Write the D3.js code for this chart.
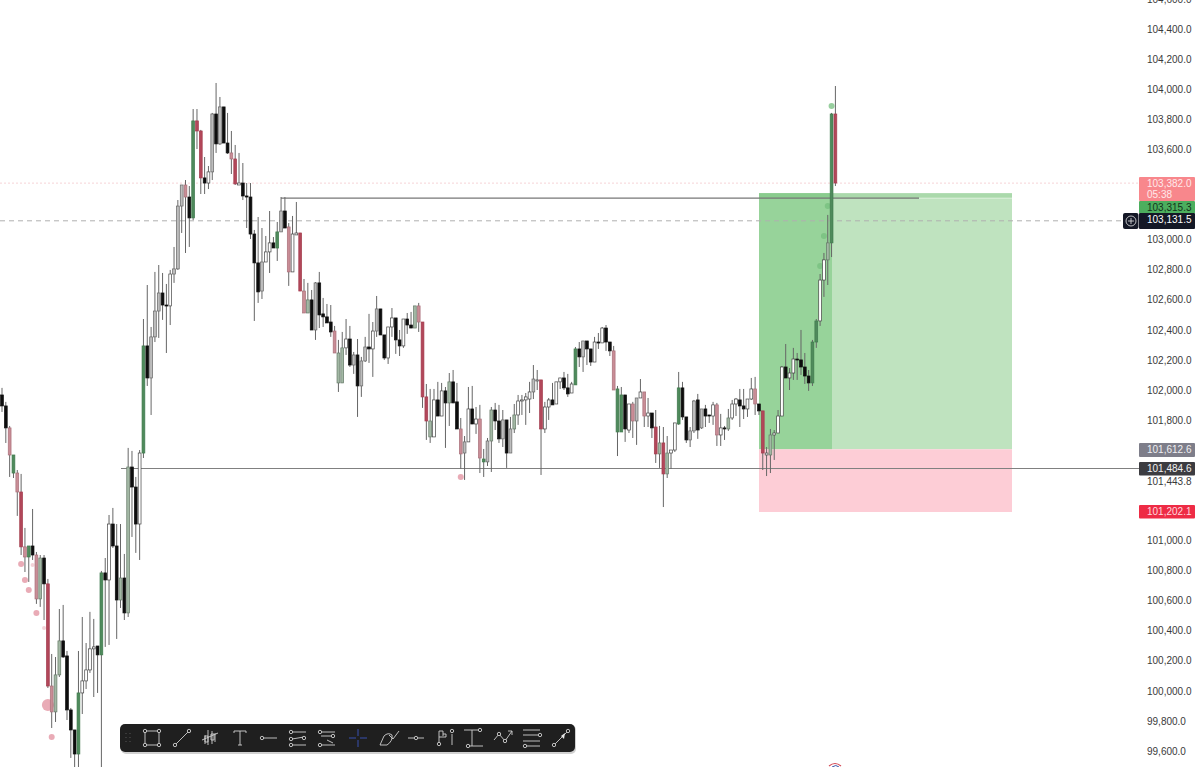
<!DOCTYPE html>
<html>
<head>
<meta charset="utf-8">
<script src="https://cdn.jsdelivr.net/npm/d3@7"></script>
<style>
  html, body { margin: 0; padding: 0; background: #fff; overflow: hidden; }
  text { font-family: "Liberation Sans", Arial, sans-serif; }
</style>
</head>
<body>
<div id="chart"></div>
<script>
//--------------------------------------------------/
//                    DATA
//--------------------------------------------------/
var highs = [102014,101921,101761,101568,101468,101442,101083,100963,101209,100923,
  100903,100903,100744,100245,100225,100544,100571,100265,99886,99740,
  100265,100491,100318,100525,100478,100298,100797,100883,101169,101216,
  101109,101109,100910,101615,101595,101422,101601,102472,102698,102419,
  102785,102831,102778,102705,102798,102951,103263,103363,103396,103356,
  103868,103868,103729,103549,103489,103842,104041,103948,103882,103842,
  103722,103629,103576,103509,103376,103376,103064,103150,103077,103024,
  103190,103017,103117,103283,103283,103110,103157,103250,103044,102738,
  102712,102665,102718,102785,102612,102572,102565,102426,102333,102386,
  102472,102426,102253,102339,102220,102353,102506,102452,102625,102539,
  102366,102419,102545,102479,102399,102472,102512,102519,102559,102579,
  102452,102040,102007,102007,102054,102047,102020,102113,102133,102047,
  101814,101694,102020,102027,101887,101901,101608,101681,101887,101914,
  101901,101867,101801,101821,101907,101967,101967,101980,102054,102166,
  102133,102067,101921,101947,102047,102054,102080,102120,102107,102054,
  102286,102319,102326,102326,102273,102353,102379,102419,102432,102319,
  102293,102027,102020,101967,101907,101921,101947,102073,101987,101947,
  101847,101867,101761,101754,101694,101601,101781,102120,102054,101821,
  101754,101934,101974,101874,101901,101834,101921,101914,101841,101761,
  101874,101934,101947,102007,102007,101940,102080,102087,101907,101861,
  101621,101741,101734,101867,102160,102306,102146,102280,102246,102399,
  102246,102133,102333,102472,102771,102911,103164,103842,104021];

var bodyTops = [101967,101894,101748,101568,101448,101322,100957,100963,100963,100903,
  100883,100883,100711,100032,100106,100332,100332,100232,99873,99740,
  99986,100066,100139,100279,100292,100298,100784,100784,101109,101109,
  100963,100750,100750,101488,101488,101355,101581,102293,102293,102353,
  102525,102645,102645,102565,102771,102805,103223,103363,103363,103283,
  103789,103789,103722,103410,103450,103835,103835,103882,103882,103642,
  103576,103536,103376,103376,103290,103283,103037,102845,102851,102918,
  102978,102978,103051,103190,103190,103084,103037,103044,103044,102658,
  102599,102599,102712,102712,102506,102486,102452,102392,102246,102280,
  102339,102339,102233,102233,102193,102286,102286,102392,102539,102539,
  102366,102419,102479,102479,102333,102472,102472,102432,102559,102559,
  102452,101954,101794,101934,101934,101994,101994,102054,102054,101921,
  101741,101655,101874,101874,101807,101807,101541,101661,101867,101867,
  101794,101801,101801,101741,101834,101927,101934,101954,101987,102073,
  102067,102067,101887,101934,101934,102054,102080,102080,102014,102040,
  102273,102273,102326,102326,102273,102319,102319,102412,102412,102319,
  102260,102007,101967,101967,101907,101907,101947,101987,101987,101847,
  101847,101754,101648,101648,101581,101601,101781,102014,102014,101821,
  101728,101927,101934,101874,101874,101834,101901,101901,101748,101748,
  101814,101907,101940,101934,101894,101940,102007,102007,101907,101861,
  101581,101701,101714,101827,102153,102153,102113,102206,102206,102200,
  102153,102093,102319,102459,102731,102865,102978,103835,103835];

var bodyBottoms = [101894,101748,101568,101448,101322,100957,100890,100890,100903,100611,
  100611,100711,100032,99860,99860,100106,100225,99873,99740,99580,
  99580,99986,100066,100139,100279,100239,100239,100737,100737,100963,
  100604,100604,100518,100518,101355,101109,101109,101581,102080,102080,
  102353,102525,102565,102559,102559,102771,102805,103223,103283,103144,
  103144,103722,103410,103376,103376,103450,103636,103636,103642,103576,
  103536,103370,103363,103290,103283,103037,102845,102652,102658,102851,
  102918,102944,102944,103051,103077,102785,102785,103031,102658,102512,
  102512,102399,102399,102499,102486,102446,102386,102246,102047,102047,
  102280,102166,102166,102027,102027,102193,102273,102273,102392,102366,
  102213,102213,102419,102333,102293,102293,102432,102412,102412,102452,
  101954,101794,101688,101688,101827,101827,101914,101914,101914,101741,
  101575,101581,101655,101774,101774,101548,101522,101522,101661,101794,
  101675,101675,101581,101581,101741,101834,101927,101934,101940,101987,
  102060,101741,101741,101887,101901,101907,102054,102014,101974,101980,
  102034,102220,102220,102273,102186,102186,102313,102313,102319,102260,
  102000,101721,101721,101741,101734,101794,101794,101947,101827,101827,
  101748,101575,101575,101442,101442,101581,101601,101774,101821,101668,
  101668,101728,101734,101748,101827,101827,101827,101701,101701,101741,
  101741,101814,101907,101894,101874,101874,101940,101907,101861,101581,
  101568,101568,101701,101714,101827,102080,102080,102113,102200,102153,
  102093,102047,102047,102319,102459,102731,102865,102978,103376];

var lows = [101854,101648,101422,101415,101163,100903,100790,100724,100870,100578,
  100558,100471,100019,99753,99793,100092,100219,99806,99554,99441,
  99474,99846,100012,100119,99959,99986,99474,100292,100305,100950,
  100345,100551,100471,100491,101023,100917,100870,101548,102027,101834,
  102319,102346,102466,102246,102432,102712,102798,103044,102911,102951,
  103130,103602,103303,103303,103336,103396,103576,103629,103642,103569,
  103436,103363,103363,103263,103077,103004,102459,102579,102605,102851,
  102778,102944,102858,103051,103077,102692,102785,103031,102658,102512,
  102512,102399,102333,102412,102419,102446,102353,102246,101987,102047,
  102233,102153,102107,101821,101954,102186,102180,102087,102353,102366,
  102200,102173,102353,102240,102226,102280,102373,102412,102412,102386,
  101881,101668,101648,101688,101827,101827,101615,101761,101914,101741,
  101475,101402,101655,101774,101708,101448,101422,101495,101455,101734,
  101648,101621,101482,101581,101714,101768,101834,101768,101847,101940,
  102000,101435,101714,101801,101901,101907,102007,102000,101954,101980,
  102034,102153,102120,102166,102160,102186,102273,102313,102260,102226,
  102000,101561,101721,101655,101714,101681,101635,101947,101754,101754,
  101681,101515,101482,101222,101415,101475,101588,101768,101801,101648,
  101621,101714,101675,101741,101754,101781,101768,101628,101628,101668,
  101728,101801,101827,101754,101807,101821,101934,101834,101834,101468,
  101428,101448,101535,101714,101827,102080,102000,102067,102067,102100,
  102040,101994,102027,102280,102426,102619,102698,102884,103356];

// b black, w hollow, g green, s sage, r red, p pink, k grey
var shades = ("bbpgprpgbp" + "sbrpssbbbb" + "gwwwwbgbwb" + "bsbsbbwgbk" + "kkbbwkkkpb" +
  "grrbwkbkbb" + "prwbbbbbkw" + "wbgkbpwwrp" + "sbkbbbbpss" + "wbkbkkbwkb" +
  "bwwbbwbbsp" + "rrswbwbsbb" + "pkwbwpgksb" + "bkbkswwwwk" + "wrwwbwwbbw" +
  "gbkbbwbwbb" + "pggbwpkwpw" + "brsrswwgbb" + "kkbkbbwpwb" + "swwbbwwpbr" +
  "wswwwbwwbb" + "bbggwwsgr").split("");

var bubbleBars   = [5, 6, 7, 8, 9, 11, 12, 13, 120, 214, 215, 216, 217];
var bubblePrices = [100843, 100737, 100671, 100837, 100518, 100418, 99906, 99693, 101422, 102825, 103024, 103223, 103888];
var bubbleSizes  = [3, 3, 3, 2, 3, 2, 6, 3, 3, 3, 3, 3, 3];

var axisTicks = [104600, 104400, 104200, 104000, 103800, 103600, 103000, 102800, 102600, 102400,
  102200, 102000, 101800, 101000, 100800, 100600, 100400, 100200, 100000, 99800, 99600];

var askLevel = 103382.0, targetLevel = 103315.3, lastLevel = 103131.5,
    entryLevel = 101612.6, supportLevel = 101484.6, sideLevel = 101443.8, stopLevel = 101202.1;
var resistanceLevel = 103282;

// toolbar icon centres
var toolCentres = [152, 182, 210, 240, 269, 298, 327, 358, 388, 416, 445, 474, 503, 532, 561];

//--------------------------------------------------/
//                    SETUP
//--------------------------------------------------/
var width = 1200, height = 767;

var svg = d3.select("#chart")
  .append("svg")
    .attr("width", width)
    .attr("height", height)
    .style("display", "block");

// the screenshot is a bit soft, same for the candles here
var soft = svg.append("defs").append("filter")
  .attr("id", "soft")
  .attr("x", "-5%").attr("y", "-5%").attr("width", "110%").attr("height", "110%");
soft.append("feGaussianBlur").attr("stdDeviation", 0.35);

var x = d3.scaleLinear().domain([0, 218]).range([2, 835.4]);
var y = d3.scaleLinear().domain([104400, 99600]).range([29, 751]);

var fills = { b: "#111111", w: "#ffffff", g: "#4f8a5c", s: "#a3b8a5", r: "#b2475a", p: "#c98d96", k: "#bdbdbd" };
var edges = { b: "#111111", w: "#444444", g: "#3f7a4d", s: "#667a68", r: "#a33c4e", p: "#a9707a", k: "#666666" };

//************* trade zones ***************/
var zones = svg.append("g").attr("transform", "translate(0,1)");
var zoneLeft = 759, zoneMid = 832, zoneRight = 1012;

zones.append("rect")
  .attr("x", zoneLeft).attr("width", zoneRight - zoneLeft)
  .attr("y", y(targetLevel)).attr("height", y(entryLevel) - y(targetLevel))
  .attr("fill", "#bfe3bf");
zones.append("rect")
  .attr("x", zoneLeft).attr("width", zoneMid - zoneLeft)
  .attr("y", y(targetLevel)).attr("height", y(entryLevel) - y(targetLevel))
  .attr("fill", "#97d39a");
// darker strip along the top of the profit zone
zones.append("rect")
  .attr("x", zoneLeft).attr("width", zoneRight - zoneLeft)
  .attr("y", y(targetLevel)).attr("height", y(resistanceLevel) - y(targetLevel))
  .attr("fill", "#5fb565").attr("fill-opacity", 0.22);
zones.append("rect")
  .attr("x", zoneLeft).attr("width", zoneRight - zoneLeft)
  .attr("y", y(entryLevel)).attr("height", y(stopLevel) - y(entryLevel) + 1)
  .attr("fill", "#fdcdd6");

//************* level lines ***************/
var lines = svg.append("g").attr("transform", "translate(0,1)");
lines.append("line")
  .attr("x1", 0).attr("x2", 1139).attr("y1", y(askLevel)).attr("y2", y(askLevel))
  .attr("stroke", "#f6d3d7").attr("stroke-dasharray", "2,2");
lines.append("line")
  .attr("x1", 0).attr("x2", 1122).attr("y1", y(lastLevel)).attr("y2", y(lastLevel))
  .attr("stroke", "#b0b0b0").attr("stroke-dasharray", "5,4");
lines.append("line")
  .attr("x1", 919).attr("x2", zoneRight).attr("y1", y(resistanceLevel)).attr("y2", y(resistanceLevel))
  .attr("stroke", "#ffffff").attr("stroke-opacity", 0.55);
lines.append("line")
  .attr("x1", x(73)).attr("x2", 919).attr("y1", y(resistanceLevel)).attr("y2", y(resistanceLevel))
  .attr("stroke", "#777777").attr("stroke-width", 1.1);
lines.append("line")
  .attr("x1", 121).attr("x2", 1139).attr("y1", y(supportLevel)).attr("y2", y(supportLevel))
  .attr("stroke", "#808080").attr("stroke-width", 1.2);

//************* bubbles ***************/
svg.append("g")
  .attr("filter", "url(#soft)")
  .selectAll("circle")
  .data(bubbleBars)
  .enter()
  .append("circle")
    .attr("cx", function(d) { return x(d); })
    .attr("cy", function(d, i) { return y(bubblePrices[i]); })
    .attr("r", function(d, i) { return bubbleSizes[i]; })
    .attr("fill", function(d) { return d > 200 ? "#76bf7e" : "#e28f9d"; })
    .attr("fill-opacity", function(d, i) { return (i == 3 || i == 5) ? 0.4 : 0.75; });

//************* candles ***************/
var candles = svg.append("g")
  .attr("filter", "url(#soft)")
  .selectAll("g")
  .data(shades)
  .enter()
  .append("g");

candles.append("line")
  .attr("x1", function(d, i) { return x(i); })
  .attr("x2", function(d, i) { return x(i); })
  .attr("y1", function(d, i) { return y(highs[i]); })
  .attr("y2", function(d, i) { return y(lows[i]); })
  .attr("stroke", "#666666");

candles.append("rect")
  .attr("x", function(d, i) { return x(i) - 1.4; })
  .attr("width", 2.8)
  .attr("y", function(d, i) { return y(bodyTops[i]); })
  .attr("height", function(d, i) { return Math.max(y(bodyBottoms[i]) - y(bodyTops[i]), 1); })
  .attr("fill", function(d) { return fills[d]; })
  .attr("stroke", function(d) { return edges[d]; })
  .attr("stroke-width", 0.7);

//************* price axis ***************/
var yAxis = d3.axisRight(y)
  .tickValues(axisTicks)
  .tickSize(0)
  .tickPadding(0)
  .tickFormat(d3.format(",.1f"));

var axisG = svg.append("g")
  .attr("transform", "translate(1147,0)")
  .call(yAxis);
axisG.select(".domain").remove();
axisG.selectAll("text")
  .attr("fill", "#3a3a3a")
  .style("font-size", "10px")
  .style("font-family", '"Liberation Sans", Arial, sans-serif');

//************* price tags ***************/
var fmt = d3.format(",.1f");
function tag(top, h, fill, color, level, extra) {
  var g = svg.append("g");
  g.append("rect")
    .attr("x", 1139).attr("y", top).attr("width", 56).attr("height", h).attr("rx", 1)
    .attr("fill", fill);
  g.append("text")
    .attr("x", 1147).attr("y", top + 10)
    .attr("fill", color).style("font-size", "10px")
    .text(fmt(level));
  if (extra) {
    g.append("text")
      .attr("x", 1147).attr("y", top + 21)
      .attr("fill", color).style("font-size", "10px")
      .text(extra);
  }
}
tag(177, 24, "#f8878c", "#ffe9ea", askLevel, "05:38");
tag(201, 12.5, "#4cae5e", "#12341a", targetLevel);
tag(213, 16, "#141826", "#ffffff", lastLevel);
tag(443, 14, "#7e7e8a", "#f0f0f2", entryLevel);
tag(462, 13.5, "#3c3c40", "#f2f2f2", supportLevel);
svg.append("text")
  .attr("x", 1147).attr("y", 484.5)
  .attr("fill", "#3a3a3a").style("font-size", "10px")
  .text(fmt(sideLevel));
tag(505, 13.5, "#ee2b45", "#ffd9de", stopLevel);

// plus button beside the last price
svg.append("rect")
  .attr("x", 1123).attr("y", 213).attr("width", 15.5).attr("height", 16).attr("rx", 2)
  .attr("fill", "#141826");
svg.append("circle")
  .attr("cx", 1131).attr("cy", 221).attr("r", 5)
  .attr("fill", "none").attr("stroke", "#e8e8e8").attr("stroke-width", 0.8);
svg.append("path")
  .attr("d", "M1128,221H1134M1131,218V224")
  .attr("stroke", "#e8e8e8").attr("stroke-width", 0.8);

//************* toolbar ***************/
var bar = svg.append("g");
bar.append("rect")
  .attr("x", 121).attr("y", 725).attr("width", 455).attr("height", 29).attr("rx", 5)
  .attr("fill", "#000").attr("fill-opacity", 0.18);
bar.append("rect")
  .attr("x", 120).attr("y", 724).attr("width", 455).attr("height", 28).attr("rx", 5)
  .attr("fill", "#1f1f1f");

// grip dots
d3.range(2).forEach(function(c) {
  d3.range(3).forEach(function(r) {
    bar.append("circle")
      .attr("cx", 126 + c * 4).attr("cy", 733.5 + r * 4).attr("r", 0.6).attr("fill", "#5c5c5c");
  });
});

// path and ring positions for every icon, relative to its centre
var toolIcons = [
  { d: "M-7,-7H7V7H-7Z", dots: [[-7,-7],[7,-7],[7,7],[-7,7]] },
  { d: "M-6,6L7,-7", dots: [[-7,7],[7,-7]] },
  { d: "M-5,-3V6M-2,-8V7M2,-7V6M5,-5V4M-8,2L8,-5M-5,-2H-2V4H-5ZM1,-4H4V2H1Z", dots: [] },
  { d: "M-6,-5V-7H6V-5M0,-7V7M-2,7H2", dots: [] },
  { d: "M-5,0H8", dots: [[-7,0]] },
  { d: "M-6,-6H8M-6,7H8M-6,1L6,-1", dots: [[-7,-6],[6,0],[-7,1],[-7,7]] },
  { d: "M-6,-6H8M-6,-2H6M-6,7H8M0,2L6,5", dots: [[-7,-6],[6,-2],[-7,7]] },
  { d: "M-9,0H-2M2,0H9M0,-9V-2M0,2V9", dots: [], stroke: "#3a55c0" },
  { d: "M-8,7L-4,-2Q0,-6 4,-3Q5,3 -1,7ZM1,-3L5,1L11,-7", dots: [] },
  { d: "M-8,0H-2M2,0H8", dots: [[0,0]] },
  { d: "M-6,5V-7H-2V-4H1V-1H-6M-1,-3H-3M7,-4V7", dots: [[-6,6],[7,-7]] },
  { d: "M-10,-8H5M-2,-8V8M-5,8H9", dots: [[6,-8],[-6,8]] },
  { d: "M-9,2L-4,-4L2,3L9,-7M9,-7H5M9,-7V-3", dots: [[-4,-4],[2,3]] },
  { d: "M-9,-8H8M-9,-3H6M-9,3H8M-6,8H8", dots: [[8,-3],[-7,8]] },
  { d: "M-6,6L6,-6", dots: [[-7,7],[7,-7]], arrow: true }
];

toolIcons.forEach(function(icon, i) {
  var g = bar.append("g").attr("transform", "translate(" + toolCentres[i] + ",738)");
  var stroke = icon.stroke || "#cfcfcf";
  g.append("path").attr("d", icon.d).attr("fill", "none").attr("stroke", stroke).attr("stroke-width", 0.9);
  icon.dots.forEach(function(p) {
    g.append("circle").attr("cx", p[0]).attr("cy", p[1]).attr("r", 1.7)
      .attr("fill", "#1f1f1f").attr("stroke", stroke).attr("stroke-width", 0.9);
  });
  if (icon.arrow) {
    g.append("path").attr("d", "M4,-5L0,-2L3,1Z").attr("fill", "#e6e6e6");
  }
});

// scrap of a logo at the bottom edge
svg.append("path").attr("d", "M829,766Q835,761 841,766").attr("fill", "none").attr("stroke", "#d44a55").attr("stroke-width", 1.2);
svg.append("path").attr("d", "M832,767Q836,764 839,767").attr("fill", "none").attr("stroke", "#3d56a8").attr("stroke-width", 1);
</script>
</body>
</html>
